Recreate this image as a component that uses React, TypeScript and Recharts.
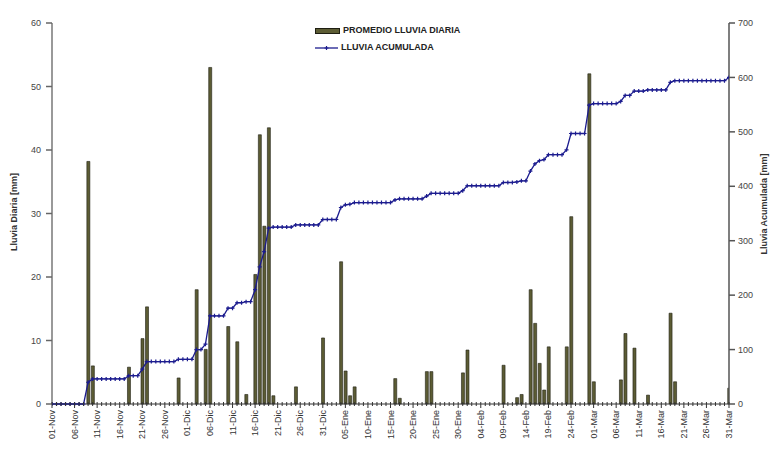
import React from 'react';
import { ComposedChart, Bar, Line, XAxis, YAxis } from 'recharts';

const tickLabels = [
  '01-Nov', '06-Nov', '11-Nov', '16-Nov', '21-Nov', '26-Nov',
  '01-Dic', '06-Dic', '11-Dic', '16-Dic', '21-Dic', '26-Dic', '31-Dic',
  '05-Ene', '10-Ene', '15-Ene', '20-Ene', '25-Ene', '30-Ene',
  '04-Feb', '09-Feb', '14-Feb', '19-Feb', '24-Feb',
  '01-Mar', '06-Mar', '11-Mar', '16-Mar', '21-Mar', '26-Mar', '31-Mar',
];

// PROMEDIO LLUVIA DIARIA (mm), one value per day from 01-Nov to 31-Mar
const rain = [
  0, 0, 0, 0, 0, 0, 0, 0, 38.2, 6.0,
  0, 0, 0, 0, 0, 0, 0, 5.8, 0, 0,
  10.3, 15.3, 0, 0, 0, 0, 0, 0, 4.1, 0,
  0, 0, 18.0, 0, 8.6, 53.0, 0, 0, 0, 12.2,
  0, 9.8, 0, 1.5, 0, 20.4, 42.4, 28.0, 43.5, 1.3,
  0, 0, 0, 0, 2.7, 0, 0, 0, 0, 0,
  10.4, 0, 0, 0, 22.4, 5.2, 1.3, 2.7, 0, 0,
  0, 0, 0, 0, 0, 0, 4.0, 0.9, 0, 0,
  0, 0, 0, 5.1, 5.1, 0, 0, 0, 0, 0,
  0, 4.9, 8.5, 0, 0, 0, 0, 0, 0, 0,
  6.1, 0, 0, 1.0, 1.5, 0, 18.0, 12.7, 6.4, 2.2,
  9.0, 0, 0, 0, 9.0, 29.5, 0, 0, 0, 52.0,
  3.5, 0, 0, 0, 0, 0, 3.8, 11.1, 0, 8.8,
  0, 0, 1.4, 0, 0, 0, 0, 14.3, 3.5, 0,
  0, 0, 0, 0, 0, 0, 0, 0, 0, 0,
  2.5,
];

// LLUVIA ACUMULADA (mm), one value per day
const accum = [
  0, 0, 0, 0, 0, 0, 0, 0, 40, 46,
  46, 46, 46, 46, 46, 46, 46, 52, 52, 52,
  64, 78, 78, 78, 78, 78, 78, 78, 82, 82,
  82, 82, 100, 100, 110, 162, 162, 162, 162, 176,
  176, 186, 186, 188, 188, 210, 252, 280, 323, 325,
  325, 325, 325, 325, 329, 329, 329, 329, 329, 329,
  339, 339, 339, 339, 361, 366, 367, 370, 370, 370,
  370, 370, 370, 370, 370, 370, 375, 377, 377, 377,
  377, 377, 377, 382, 387, 387, 387, 387, 387, 387,
  387, 392, 401, 401, 401, 401, 401, 401, 401, 401,
  407, 407, 407, 408, 410, 410, 428, 441, 447, 449,
  458, 458, 458, 458, 467, 497, 497, 497, 497, 549,
  552, 552, 552, 552, 552, 552, 556, 567, 567, 575,
  575, 575, 577, 577, 577, 577, 577, 591, 594, 594,
  594, 594, 594, 594, 594, 594, 594, 594, 594, 594,
  600,
];

const leftTicks = [0, 10, 20, 30, 40, 50, 60];
const rightTicks = [0, 100, 200, 300, 400, 500, 600, 700];

const data = rain.map((r, i) => ({ day: i, rain: r, accum: accum[i] }));
const dayTicks = data.map((d) => d.day);

const FONT = '"Liberation Sans", Arial, sans-serif';
const BAR_FILL = '#5c5c34';
const LINE_COLOR = '#1c1c8f';

const XTick = (props: any) => {
  const { x, y, payload } = props;
  const i = payload.value as number;
  const major = i % 5 === 0;
  const label = major ? tickLabels[i / 5] : '';
  return (
    <g>
      <line x1={x} x2={x} y1={y - 2} y2={y + (major ? 4 : 2)} stroke="#333" strokeWidth={1} />
      {major && (
        <text
          x={x}
          y={y + 6}
          transform={`rotate(-90 ${x} ${y + 6})`}
          textAnchor="end"
          dominantBaseline="central"
          fontSize={9}
          fontFamily={FONT}
          fill="#333"
        >
          {label}
        </text>
      )}
    </g>
  );
};

const PlusDot = (props: any) => {
  const { cx, cy, index } = props;
  if (cx == null || cy == null) return <g key={index} />;
  return (
    <path
      key={index}
      d={`M${cx - 2},${cy}H${cx + 2}M${cx},${cy - 2}V${cy + 2}`}
      stroke={LINE_COLOR}
      strokeWidth={1.2}
      fill="none"
    />
  );
};

export default function App() {
  return (
    <div style={{ position: 'absolute', left: 0, top: 0, width: 770, height: 453, background: '#fff', fontFamily: FONT }}>
      <ComposedChart
        width={770}
        height={453}
        data={data}
        margin={{ top: 23, right: 0, left: 0, bottom: 0 }}
      >
        <XAxis
          dataKey="day"
          type="number"
          domain={[0, 150]}
          ticks={dayTicks}
          interval={0}
          tick={<XTick />}
          tickLine={false}
          tickSize={0}
          tickMargin={0}
          height={49}
          axisLine={{ stroke: '#333', strokeWidth: 1 }}
          allowDataOverflow
        />
        <YAxis
          yAxisId="left"
          orientation="left"
          domain={[0, 60]}
          ticks={leftTicks}
          width={52}
          tickSize={6}
          tickMargin={5}
          axisLine={{ stroke: '#999', strokeWidth: 2 }}
          tickLine={{ stroke: '#666', strokeWidth: 1.5 }}
          tick={{ fontSize: 9, fill: '#444', fontFamily: FONT }}
        />
        <YAxis
          yAxisId="right"
          orientation="right"
          domain={[0, 700]}
          ticks={rightTicks}
          width={41}
          tickSize={6}
          tickMargin={3}
          axisLine={{ stroke: '#555', strokeWidth: 1.5 }}
          tickLine={{ stroke: '#555', strokeWidth: 1.5 }}
          tick={{ fontSize: 9, fill: '#444', fontFamily: FONT, textAnchor: 'start' }}
        />
        <Bar
          yAxisId="left"
          dataKey="rain"
          fill={BAR_FILL}
          stroke="#1e1e12"
          strokeWidth={0.6}
          barSize={3}
          isAnimationActive={false}
        />
        <Line
          yAxisId="right"
          dataKey="accum"
          type="linear"
          stroke={LINE_COLOR}
          strokeWidth={1.3}
          dot={<PlusDot />}
          activeDot={false}
          isAnimationActive={false}
        />
      </ComposedChart>

      {/* Legend */}
      <div style={{ position: 'absolute', left: 315, top: 22, fontSize: 9, fontWeight: 'bold', color: '#222', lineHeight: '17px' }}>
        <div style={{ display: 'flex', alignItems: 'center' }}>
          <span style={{ display: 'inline-block', width: 23, height: 4, background: BAR_FILL, border: '0.5px solid #1e1e12', marginRight: 3 }} />
          <span>PROMEDIO LLUVIA DIARIA</span>
        </div>
        <div style={{ display: 'flex', alignItems: 'center' }}>
          <svg width={24} height={8} style={{ marginRight: 2 }}>
            <line x1={0} x2={23} y1={4} y2={4} stroke={LINE_COLOR} strokeWidth={1.3} />
            <path d="M9.5,4H13.5M11.5,2V6" stroke={LINE_COLOR} strokeWidth={1.2} />
          </svg>
          <span>LLUVIA ACUMULADA</span>
        </div>
      </div>

      {/* Axis titles */}
      <div style={{ position: 'absolute', left: 14, top: 212, transform: 'translate(-50%, -50%) rotate(-90deg)', whiteSpace: 'nowrap', fontSize: 9, fontWeight: 'bold', color: '#333' }}>
        Lluvia Diaria [mm]
      </div>
      <div style={{ position: 'absolute', left: 764, top: 204, transform: 'translate(-50%, -50%) rotate(-90deg)', whiteSpace: 'nowrap', fontSize: 9, fontWeight: 'bold', color: '#333' }}>
        Lluvia Acumulada [mm]
      </div>
    </div>
  );
}
